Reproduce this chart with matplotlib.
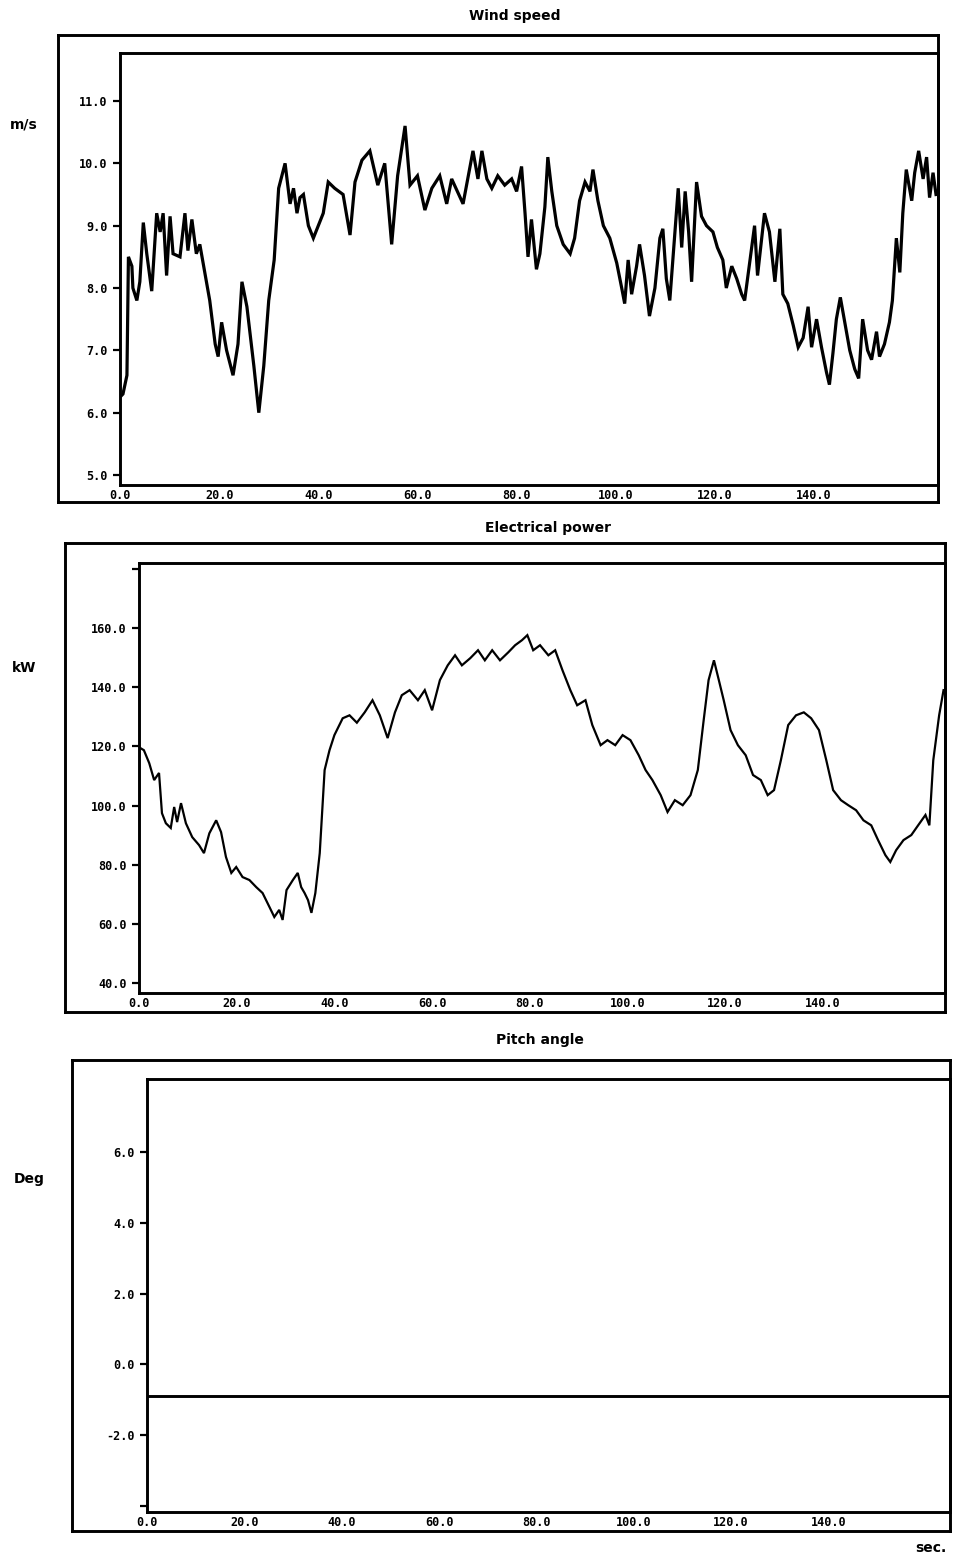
import matplotlib
matplotlib.use("Agg")
import matplotlib.pyplot as plt

W, H = 955, 1560

# ---- data -------------------------------------------------------------
wind_t = [0.0, 0.6, 1.4, 1.7, 2.4, 2.6, 3.4, 4.0, 4.7, 5.4,
          6.4, 7.4, 8.1, 8.7, 9.4, 10.1, 10.7, 12.1, 13.1, 13.7,
          14.5, 15.4, 16.1, 17.1, 18.1, 19.2, 19.8, 20.5, 21.5, 22.8,
          23.8, 24.6, 25.6, 27.0, 28.0, 29.0, 30.0, 31.1, 32.0, 33.3,
          34.3, 35.0, 35.7, 36.3, 37.0, 38.0, 39.0, 40.0, 41.0, 42.0,
          43.3, 45.0, 46.4, 47.4, 48.8, 50.4, 52.0, 53.4, 54.8, 56.0,
          57.5, 58.5, 60.0, 61.5, 62.9, 64.5, 65.9, 66.9, 69.2, 71.2,
          72.2, 73.0, 74.0, 75.0, 76.2, 77.6, 79.0, 80.0, 81.0, 81.7,
          82.3, 83.0, 84.0, 84.7, 85.7, 86.3, 87.1, 88.1, 89.4, 90.8,
          91.7, 92.7, 93.8, 94.8, 95.4, 96.4, 97.5, 98.8, 100.2, 101.2,
          101.8, 102.5, 103.2, 104.2, 104.8, 105.8, 106.8, 107.9, 108.9, 109.5,
          110.2, 110.9, 111.6, 112.6, 113.3, 114.0, 114.7, 115.3, 116.3, 117.3,
          118.3, 119.6, 120.5, 121.6, 122.3, 123.4, 124.4, 125.4, 126.0, 127.0,
          128.0, 128.6, 130.0, 131.0, 132.1, 133.1, 133.7, 134.7, 135.8, 136.8,
          137.8, 138.8, 139.5, 140.5, 141.5, 142.5, 143.1, 143.8, 144.5, 145.3,
          146.2, 147.2, 148.2, 149.0, 149.8, 150.8, 151.6, 152.6, 153.2, 154.2,
          155.2, 155.8, 156.6, 157.3, 157.9, 158.6, 159.7, 160.3, 161.1, 162.0,
          162.7, 163.3, 164.0, 164.6]
wind_ms = [6.25, 6.3, 6.6, 8.5, 8.35, 8.0, 7.8, 8.1, 9.05, 8.55,
           7.95, 9.2, 8.9, 9.2, 8.2, 9.15, 8.55, 8.5, 9.2, 8.6,
           9.1, 8.55, 8.7, 8.25, 7.8, 7.1, 6.9, 7.45, 7.0, 6.6,
           7.1, 8.1, 7.7, 6.75, 6.0, 6.75, 7.8, 8.45, 9.6, 10.0,
           9.35, 9.6, 9.2, 9.45, 9.5, 9.0, 8.8, 9.0, 9.2, 9.7,
           9.6, 9.5, 8.85, 9.7, 10.05, 10.2, 9.65, 10.0, 8.7, 9.8,
           10.6, 9.65, 9.8, 9.25, 9.6, 9.8, 9.35, 9.75, 9.35, 10.2,
           9.75, 10.2, 9.75, 9.6, 9.8, 9.65, 9.75, 9.55, 9.95, 9.2,
           8.5, 9.1, 8.3, 8.55, 9.3, 10.1, 9.55, 9.0, 8.7, 8.55,
           8.8, 9.4, 9.7, 9.55, 9.9, 9.4, 9.0, 8.8, 8.4, 8.0,
           7.75, 8.45, 7.9, 8.35, 8.7, 8.2, 7.55, 8.0, 8.8, 8.95,
           8.15, 7.8, 8.55, 9.6, 8.65, 9.55, 8.9, 8.1, 9.7, 9.15,
           9.0, 8.9, 8.65, 8.45, 8.0, 8.35, 8.15, 7.9, 7.8, 8.4,
           9.0, 8.2, 9.2, 8.9, 8.1, 8.95, 7.9, 7.75, 7.4, 7.05,
           7.2, 7.7, 7.05, 7.5, 7.05, 6.65, 6.45, 6.95, 7.5, 7.85,
           7.45, 7.0, 6.7, 6.55, 7.5, 7.0, 6.85, 7.3, 6.9, 7.1,
           7.45, 7.8, 8.8, 8.25, 9.2, 9.9, 9.4, 9.85, 10.2, 9.75,
           10.1, 9.45, 9.85, 9.5]

power_t = [0.0, 1.0, 2.1, 3.1, 4.1, 4.7, 5.5, 6.5, 7.2, 7.8,
           8.6, 9.6, 10.9, 12.3, 13.3, 14.4, 15.8, 16.8, 17.8, 18.9,
           19.9, 21.2, 22.6, 24.0, 25.3, 26.7, 27.7, 28.7, 29.4, 30.2,
           31.5, 32.5, 33.2, 33.9, 34.6, 35.3, 36.1, 37.0, 38.0, 39.0,
           40.0, 41.7, 43.1, 44.6, 46.2, 47.8, 49.3, 50.9, 52.4, 53.8,
           55.4, 57.1, 58.5, 60.0, 61.6, 63.2, 64.7, 66.1, 67.8, 69.4,
           70.8, 72.3, 73.9, 75.6, 77.0, 78.4, 79.5, 80.7, 82.1, 83.8,
           85.2, 86.7, 88.3, 89.7, 91.4, 92.8, 94.5, 95.9, 97.5, 99.0,
           100.6, 102.3, 103.7, 105.1, 106.8, 108.2, 109.7, 111.3, 112.9, 114.4,
           115.6, 116.6, 117.7, 118.7, 119.7, 121.1, 122.6, 124.2, 125.7, 127.3,
           128.7, 130.0, 131.4, 132.9, 134.5, 136.1, 137.6, 139.2, 140.7, 142.1,
           143.7, 145.2, 146.8, 148.3, 149.9, 151.3, 152.8, 153.8, 155.0, 156.5,
           158.1, 159.5, 161.0, 161.8, 162.6, 163.8, 164.7]
power_kw = [119.7, 118.7, 114.3, 108.6, 111.0, 97.4, 94.0, 92.4, 99.5, 94.4,
            100.8, 94.0, 89.3, 86.6, 83.9, 90.6, 95.0, 91.0, 82.6, 77.2,
            79.2, 75.8, 74.8, 72.4, 70.4, 65.7, 62.3, 64.7, 61.3, 71.4,
            74.8, 77.2, 72.4, 70.4, 68.0, 63.7, 70.4, 83.9, 112.0, 118.7,
            123.8, 129.5, 130.5, 128.0, 131.5, 135.6, 130.5, 122.8, 131.5, 137.3,
            139.0, 135.6, 139.0, 132.2, 142.4, 147.4, 150.8, 147.4, 149.8, 152.5,
            149.1, 152.5, 149.1, 151.8, 154.2, 155.9, 157.6, 152.5, 154.2, 150.8,
            152.5, 145.7, 139.0, 133.9, 135.6, 127.2, 120.4, 122.1, 120.4, 123.8,
            122.1, 117.0, 112.0, 108.6, 103.5, 97.8, 101.8, 100.1, 103.5, 112.0,
            128.9, 142.4, 149.1, 142.4, 135.6, 125.5, 120.4, 117.0, 110.3, 108.6,
            103.5, 105.2, 115.3, 127.2, 130.5, 131.5, 129.5, 125.5, 115.3, 105.2,
            101.8, 100.1, 98.4, 95.0, 93.3, 88.3, 83.2, 80.9, 84.9, 88.3,
            90.0, 93.3, 96.8, 93.3, 115.3, 130.5, 139.0]

pitch_t = [0.0, 165.0]
pitch_deg = [-0.9, -0.9]

x_ticks = [0, 20, 40, 60, 80, 100, 120, 140]
x_labels = ["0.0", "20.0", "40.0", "60.0", "80.0", "100.0", "120.0", "140.0"]

wind_ticks = [5, 6, 7, 8, 9, 10, 11]
wind_labels = ["5.0", "6.0", "7.0", "8.0", "9.0", "10.0", "11.0"]
power_ticks = [40, 60, 80, 100, 120, 140, 160, 180]
power_labels = ["40.0", "60.0", "80.0", "100.0", "120.0", "140.0", "160.0", ""]
pitch_ticks = [-4, -2, 0, 2, 4, 6]
pitch_labels = ["", "-2.0", "0.0", "2.0", "4.0", "6.0"]

titles = ["Wind speed", "Electrical power", "Pitch angle"]
units = ["m/s", "kW", "Deg"]

# ---- layout helpers ----------------------------------------------------
fig = plt.figure(figsize=(W / 100, H / 100), dpi=100)
fig.patch.set_facecolor("white")

def box(l, t, r, b):
    return [l / W, 1 - b / H, (r - l) / W, (b - t) / H]

TICK_FONT = dict(family="DejaVu Sans Mono", weight="bold", size=8.5)
LW_FRAME = 2.1

def frame(rect):
    ax = fig.add_axes(box(*rect), zorder=0)
    ax.set_xticks([])
    ax.set_yticks([])
    for s in ax.spines.values():
        s.set_linewidth(LW_FRAME)
    return ax

def panel(rect, t, y, lw, ylim, yticks, ylabels):
    ax = fig.add_axes(box(*rect), zorder=1)
    ax.patch.set_alpha(0)
    ax.plot(t, y, color="black", lw=lw, solid_joinstyle="miter")
    ax.set_xlim(0, 165)
    ax.set_ylim(*ylim)
    ax.set_xticks(x_ticks)
    ax.set_xticklabels(x_labels, fontdict=TICK_FONT)
    ax.set_yticks(yticks)
    ax.set_yticklabels(ylabels, fontdict=TICK_FONT)
    ax.tick_params(axis="x", length=0, pad=3)
    ax.tick_params(axis="y", length=5, width=1.6, pad=4, direction="out")
    for s in ax.spines.values():
        s.set_linewidth(LW_FRAME)
    return ax

# Wind speed
frame((58, 35, 938, 502))
panel((120, 53, 938, 485), wind_t, wind_ms, 2.3, (4.84, 11.77),
      wind_ticks, wind_labels)

# Electrical power
frame((65, 543, 945, 1012))
panel((139, 563, 945, 993), power_t, power_kw, 1.6, (36.6, 182.0),
      power_ticks, power_labels)

# Pitch angle
frame((72, 1060, 950, 1531))
panel((147, 1079, 950, 1512), pitch_t, pitch_deg, 2.1, (-4.17, 8.06),
      pitch_ticks, pitch_labels)

# Titles, units and time label
TXT = dict(family="DejaVu Sans", weight="bold", size=10, color="black")
for (x, y), s in zip([(515, 16), (548, 528), (540, 1040)], titles):
    fig.text(x / W, 1 - y / H, s, ha="center", va="center", **TXT)
for (x, y), s in zip([(24, 125), (24, 668), (29, 1179)], units):
    fig.text(x / W, 1 - y / H, s, ha="center", va="center", **TXT)
fig.text(931 / W, 1 - 1548 / H, "sec.", ha="center", va="center", **TXT)

fig.savefig("out.png", dpi=100, facecolor="white")
